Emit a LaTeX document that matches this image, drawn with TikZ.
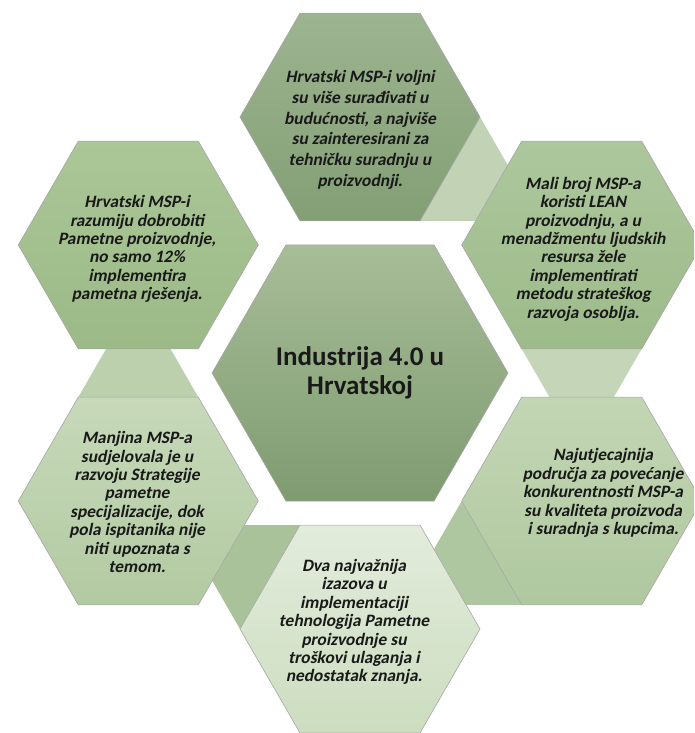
\documentclass[tikz,border=0pt]{standalone}
\usepackage{fontspec}
\setmainfont{Carlito}
\newfontfamily\hexfont{Carlito}[FakeSlant=0.2]
\usetikzlibrary{calc}

\definecolor{midA}{HTML}{A7BD98}
\definecolor{midB}{HTML}{7F9B70}
\definecolor{topA}{HTML}{9DB490}
\definecolor{topB}{HTML}{839F75}
\definecolor{urA}{HTML}{ADC79C}
\definecolor{urB}{HTML}{9DBB8B}
\definecolor{lrA}{HTML}{C3D6B4}
\definecolor{lrB}{HTML}{AFC89F}
\definecolor{boA}{HTML}{E3ECDC}
\definecolor{boB}{HTML}{CCDDBF}
\definecolor{llA}{HTML}{C7D9B9}
\definecolor{llB}{HTML}{B2CAA2}
\definecolor{ulA}{HTML}{ABC697}
\definecolor{ulB}{HTML}{9BBA87}
\definecolor{conA}{HTML}{C1D3B4}
\definecolor{conB}{HTML}{C4D6B7}
\definecolor{conC}{HTML}{AFC7A0}
\definecolor{conD}{HTML}{A9C29A}
\definecolor{conE}{HTML}{BCD0AE}

\tikzset{
	hexa/.style={draw=black!35, line width=0.6pt},
	txt/.style={align=center, inner sep=0pt, text=black!90,
		font=\hexfont\bfseries\fontsize{17.4}{18.4}\selectfont},
	coretxt/.style={align=center, inner sep=0pt, text=black!90,
		font=\bfseries\fontsize{27}{29}\selectfont},
}

\begin{document}
\begin{tikzpicture}[x=1pt,y=1pt]
	\clip (-360,-360) rectangle (334,373);

	\coordinate (mid) at (0,0);
	\coordinate (h1) at (90:256);
	\coordinate (h2) at (30:256);
	\coordinate (h3) at (-30:256);
	\coordinate (h4) at (-90:256);
	\coordinate (h5) at (-150:256);
	\coordinate (h6) at (150:256);

	% connectors, from each hexagon to the next one
	\foreach \i/\a/\c in {1/90/conA, 2/30/conB, 3/-30/conC, 4/-90/conD, 5/-150/conE}
	{
		\fill[\c] ($(h\i)+(\a-90:120)$)
			-- ($(h\i)+(\a-90:120)+(\a-150:55.6)$)
			-- ($(h\i)+(\a-150:120)+(\a-90:55.6)$)
			-- ($(h\i)+(\a-150:120)$) -- cycle;
	};

	% hexagons
	\shade[hexa, top color=midA, bottom color=midB] ($(mid)+(0:148)$)
		-- ++(120:148) -- ++(180:148) -- ++(240:148) -- ++(300:148) -- ++(0:148) -- cycle;
	\foreach \i/\t/\b in {1/topA/topB, 2/urA/urB, 3/lrA/lrB, 4/boA/boB, 5/llA/llB, 6/ulA/ulB}
	{
		\shade[hexa, top color=\t, bottom color=\b] ($(h\i)+(0:120)$)
			-- ++(120:120) -- ++(180:120) -- ++(240:120) -- ++(300:120) -- ++(0:120) -- cycle;
	};

	\node[coretxt] (core) at (0,0) {Industrija 4.0 u\\Hrvatskoj};
	\node[txt, font=\hexfont\bfseries\fontsize{17.4}{20.7}\selectfont] (t1) at (0,243)
		{Hrvatski MSP-i voljni\\su više surađivati u\\budućnosti, a najviše\\su zainteresirani za\\tehničku suradnju u\\proizvodnji.};
	\node[txt] (t2) at (223,124)
		{Mali broj MSP-a\\koristi LEAN\\proizvodnju, a u\\menadžmentu ljudskih\\resursa žele\\implementirati\\metodu strateškog\\razvoja osoblja.};
	\node[txt] (t3) at (243,-120)
		{Najutjecajnija\\područja za povećanje\\konkurentnosti MSP-a\\su kvaliteta proizvoda\\i suradnja s kupcima.};
	\node[txt] (t4) at (-6,-249)
		{Dva najvažnija\\izazova u\\implementaciji\\tehnologija Pametne\\proizvodnje su\\troškovi ulaganja i\\nedostatak znanja.};
	\node[txt] (t5) at (-223,-129)
		{Manjina MSP-a\\sudjelovala je u\\razvoju Strategije\\pametne\\specijalizacije, dok\\pola ispitanika nije\\niti upoznata s\\temom.};
	\node[txt] (t6) at (-223,124)
		{Hrvatski MSP-i\\razumiju dobrobiti\\Pametne proizvodnje,\\no samo 12\%\\implementira\\pametna rješenja.};
\end{tikzpicture}
\end{document}
